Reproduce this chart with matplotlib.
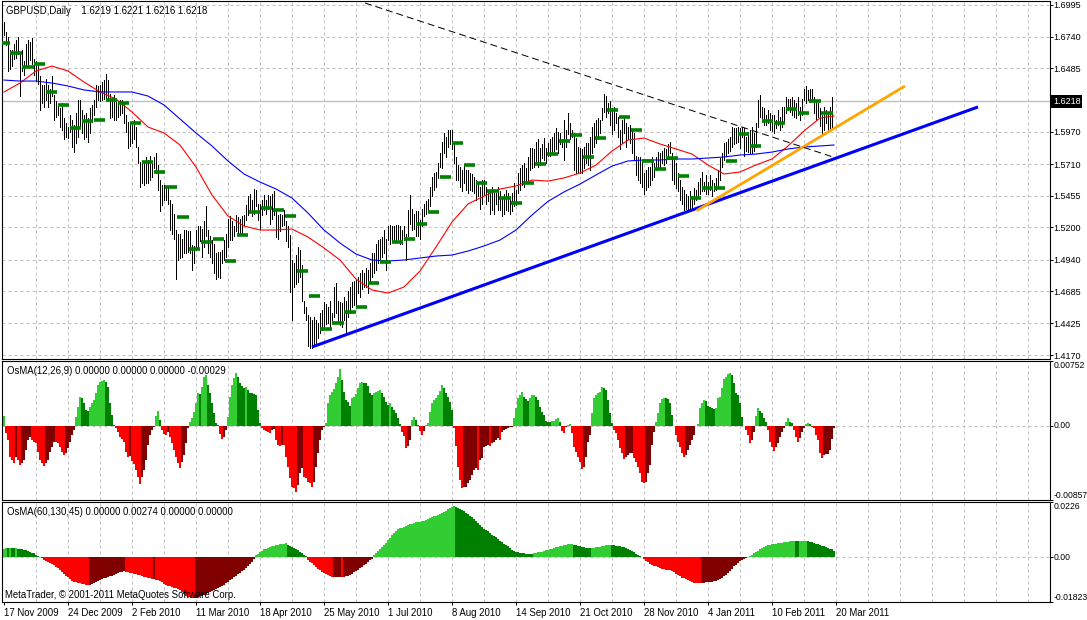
import numpy as np
import matplotlib
matplotlib.use('Agg')
import matplotlib.pyplot as plt

plt.rcParams['font.family'] = ['Liberation Sans', 'DejaVu Sans']

# GBPUSD daily bars in four chunks (left to right)
high_1 = [1.686, 1.678, 1.674, 1.663, 1.663, 1.668, 1.671, 1.674, 1.661, 1.663,
          1.654, 1.668, 1.671, 1.670, 1.673, 1.656, 1.654, 1.652, 1.642, 1.635,
          1.635, 1.640, 1.635, 1.632, 1.642, 1.627, 1.622, 1.619, 1.616, 1.620,
          1.608, 1.604, 1.601, 1.611, 1.607, 1.603, 1.612, 1.623, 1.623, 1.615,
          1.611, 1.612, 1.608, 1.616, 1.619, 1.623, 1.635, 1.634, 1.635, 1.637,
          1.639, 1.644, 1.639, 1.628, 1.625, 1.627, 1.621, 1.622, 1.623, 1.623,
          1.620, 1.611, 1.605, 1.604, 1.603, 1.607, 1.601, 1.585, 1.573, 1.572,
          1.573, 1.577, 1.574, 1.578, 1.573, 1.577, 1.580, 1.570, 1.558, 1.554,
          1.554, 1.553, 1.553, 1.542, 1.539, 1.531, 1.518, 1.515, 1.515, 1.511,
          1.518, 1.518, 1.517, 1.517, 1.506, 1.505, 1.518, 1.521, 1.521]
low_1 = [1.675, 1.667, 1.646, 1.648, 1.650, 1.656, 1.657, 1.660, 1.626, 1.646,
         1.643, 1.650, 1.650, 1.655, 1.652, 1.643, 1.638, 1.636, 1.615, 1.620,
         1.617, 1.623, 1.617, 1.620, 1.626, 1.607, 1.609, 1.611, 1.601, 1.599,
         1.591, 1.593, 1.592, 1.597, 1.585, 1.581, 1.588, 1.593, 1.601, 1.596,
         1.591, 1.593, 1.589, 1.596, 1.605, 1.611, 1.617, 1.623, 1.622, 1.623,
         1.624, 1.623, 1.622, 1.608, 1.609, 1.607, 1.607, 1.609, 1.611, 1.612,
         1.604, 1.597, 1.584, 1.586, 1.588, 1.591, 1.585, 1.572, 1.553, 1.556,
         1.554, 1.556, 1.556, 1.558, 1.561, 1.568, 1.564, 1.550, 1.533, 1.538,
         1.542, 1.542, 1.539, 1.518, 1.515, 1.511, 1.478, 1.494, 1.495, 1.496,
         1.499, 1.499, 1.500, 1.499, 1.486, 1.491, 1.502, 1.504, 1.509]

high_2 = [1.519, 1.525, 1.537, 1.518, 1.513, 1.510, 1.507, 1.499, 1.500, 1.500,
          1.502, 1.510, 1.515, 1.527, 1.529, 1.525, 1.521, 1.530, 1.528, 1.527,
          1.529, 1.530, 1.538, 1.545, 1.547, 1.542, 1.551, 1.550, 1.539, 1.539,
          1.542, 1.546, 1.542, 1.546, 1.545, 1.547, 1.549, 1.535, 1.530, 1.531,
          1.530, 1.534, 1.525, 1.521, 1.514, 1.494, 1.491, 1.498, 1.504, 1.502,
          1.490, 1.461, 1.456, 1.449, 1.448, 1.445, 1.448, 1.445, 1.443, 1.451,
          1.453, 1.460, 1.458, 1.456, 1.461, 1.451, 1.472, 1.475, 1.461, 1.460,
          1.459, 1.464, 1.461, 1.469, 1.472, 1.476, 1.477, 1.478, 1.480, 1.483,
          1.486, 1.483, 1.487, 1.486, 1.491, 1.499, 1.499, 1.507, 1.510, 1.511,
          1.512, 1.518, 1.511, 1.521, 1.522, 1.521, 1.521, 1.522, 1.522, 1.521,
          1.518, 1.521, 1.515, 1.534]
low_2 = [1.496, 1.504, 1.513, 1.499, 1.496, 1.491, 1.483, 1.478, 1.480, 1.479,
         1.491, 1.494, 1.496, 1.504, 1.510, 1.510, 1.513, 1.517, 1.515, 1.514,
         1.515, 1.522, 1.526, 1.530, 1.534, 1.529, 1.531, 1.537, 1.526, 1.519,
         1.530, 1.534, 1.531, 1.535, 1.523, 1.527, 1.530, 1.512, 1.511, 1.517,
         1.521, 1.522, 1.509, 1.504, 1.468, 1.445, 1.472, 1.474, 1.476, 1.480,
         1.461, 1.451, 1.445, 1.424, 1.423, 1.423, 1.425, 1.425, 1.431, 1.435,
         1.437, 1.440, 1.442, 1.443, 1.440, 1.443, 1.448, 1.451, 1.443, 1.441,
         1.440, 1.445, 1.435, 1.448, 1.451, 1.456, 1.457, 1.456, 1.467, 1.464,
         1.470, 1.472, 1.472, 1.467, 1.475, 1.480, 1.483, 1.486, 1.491, 1.493,
         1.496, 1.499, 1.486, 1.510, 1.507, 1.510, 1.508, 1.509, 1.511, 1.507,
         1.507, 1.510, 1.494, 1.513]

high_3 = [1.546, 1.535, 1.531, 1.533, 1.533, 1.526, 1.535, 1.539, 1.541, 1.543,
          1.553, 1.561, 1.564, 1.565, 1.572, 1.580, 1.589, 1.596, 1.593, 1.599,
          1.599, 1.599, 1.589, 1.577, 1.570, 1.569, 1.566, 1.570, 1.566, 1.566,
          1.564, 1.563, 1.561, 1.558, 1.556, 1.553, 1.558, 1.558, 1.553, 1.550,
          1.549, 1.553, 1.548, 1.548, 1.553, 1.549, 1.543, 1.547, 1.550, 1.548,
          1.545, 1.548, 1.556, 1.550, 1.564, 1.568, 1.570, 1.572, 1.568, 1.577,
          1.584, 1.584, 1.583, 1.589, 1.591, 1.584, 1.587, 1.592, 1.584, 1.588,
          1.591, 1.593, 1.596, 1.600, 1.597, 1.596, 1.591, 1.607, 1.599, 1.612,
          1.604, 1.599, 1.596, 1.592, 1.585, 1.584, 1.583, 1.585, 1.588, 1.588,
          1.593, 1.601, 1.604, 1.607, 1.608, 1.607, 1.616, 1.628, 1.626, 1.620,
          1.622, 1.616, 1.617, 1.612, 1.609, 1.599]
low_3 = [1.523, 1.518, 1.519, 1.513, 1.513, 1.511, 1.521, 1.529, 1.531, 1.534,
         1.537, 1.545, 1.550, 1.553, 1.560, 1.569, 1.568, 1.580, 1.577, 1.585,
         1.587, 1.583, 1.572, 1.558, 1.558, 1.553, 1.549, 1.556, 1.550, 1.548,
         1.550, 1.549, 1.548, 1.542, 1.545, 1.535, 1.539, 1.546, 1.539, 1.541,
         1.531, 1.534, 1.531, 1.539, 1.534, 1.534, 1.529, 1.531, 1.534, 1.533,
         1.531, 1.533, 1.537, 1.538, 1.548, 1.550, 1.554, 1.553, 1.556, 1.558,
         1.566, 1.568, 1.569, 1.572, 1.569, 1.570, 1.576, 1.574, 1.572, 1.578,
         1.578, 1.581, 1.582, 1.583, 1.580, 1.587, 1.585, 1.574, 1.585, 1.595,
         1.591, 1.593, 1.566, 1.564, 1.565, 1.564, 1.564, 1.568, 1.572, 1.570,
         1.566, 1.580, 1.585, 1.588, 1.591, 1.596, 1.607, 1.613, 1.609, 1.612,
         1.603, 1.595, 1.599, 1.604, 1.593, 1.583]

high_4 = [1.607, 1.609, 1.604, 1.601, 1.603, 1.598, 1.596, 1.578, 1.577, 1.577,
          1.574, 1.564, 1.566, 1.569, 1.569, 1.577, 1.572, 1.577, 1.581, 1.580,
          1.582, 1.584, 1.583, 1.587, 1.589, 1.580, 1.576, 1.572, 1.564, 1.558,
          1.553, 1.550, 1.547, 1.545, 1.549, 1.545, 1.552, 1.550, 1.557, 1.560,
          1.565, 1.557, 1.562, 1.557, 1.562, 1.558, 1.556, 1.560, 1.566, 1.576,
          1.580, 1.588, 1.589, 1.591, 1.593, 1.601, 1.600, 1.600, 1.601, 1.600,
          1.601, 1.600, 1.593, 1.597, 1.599, 1.601, 1.596, 1.604, 1.623, 1.627,
          1.617, 1.616, 1.611, 1.615, 1.612, 1.611, 1.611, 1.607, 1.615, 1.609,
          1.617, 1.617, 1.625, 1.624, 1.624, 1.625, 1.623, 1.620, 1.625, 1.617,
          1.624, 1.632, 1.634, 1.631, 1.632, 1.632, 1.625, 1.621, 1.620, 1.616,
          1.611, 1.617, 1.615, 1.613, 1.617, 1.625, 1.6221]
low_4 = [1.588, 1.596, 1.585, 1.591, 1.588, 1.580, 1.574, 1.562, 1.558, 1.556,
         1.553, 1.547, 1.550, 1.553, 1.554, 1.558, 1.561, 1.566, 1.569, 1.568,
         1.572, 1.570, 1.572, 1.577, 1.580, 1.558, 1.555, 1.552, 1.549, 1.542,
         1.539, 1.534, 1.535, 1.533, 1.535, 1.535, 1.539, 1.542, 1.545, 1.547,
         1.549, 1.549, 1.547, 1.547, 1.550, 1.545, 1.549, 1.550, 1.553, 1.558,
         1.569, 1.574, 1.578, 1.580, 1.582, 1.585, 1.587, 1.588, 1.589, 1.584,
         1.593, 1.578, 1.582, 1.581, 1.580, 1.580, 1.582, 1.585, 1.601, 1.609,
         1.608, 1.603, 1.603, 1.604, 1.599, 1.598, 1.596, 1.600, 1.603, 1.599,
         1.601, 1.604, 1.612, 1.615, 1.613, 1.611, 1.609, 1.608, 1.611, 1.607,
         1.611, 1.623, 1.620, 1.623, 1.621, 1.623, 1.612, 1.607, 1.609, 1.602,
         1.596, 1.599, 1.604, 1.597, 1.599, 1.600, 1.6216]

# weekly level markers (green dashes), one per week
weekly = [1.6685, 1.6605, 1.6497, 1.6519, 1.6290, 1.6185, 1.6005, 1.6059, 1.6067, 1.6228,
          1.6201, 1.6045, 1.5725, 1.5644, 1.5523, 1.5281, 1.5023, 1.5079, 1.5104, 1.4926,
          1.5136, 1.5322, 1.5354, 1.5340, 1.5289, 1.4845, 1.4644, 1.4377, 1.4428, 1.4514,
          1.4555, 1.4749, 1.4918, 1.5079, 1.5104, 1.5225, 1.5322, 1.5605, 1.5879, 1.5701,
          1.5556, 1.5492, 1.5435, 1.5395, 1.5556, 1.5709, 1.5790, 1.5895, 1.5943, 1.5766,
          1.5919, 1.6145, 1.6088, 1.5986, 1.5733, 1.5668, 1.5757, 1.5612, 1.5434, 1.5515,
          1.5515, 1.5733, 1.5951, 1.5857, 1.6056, 1.6040, 1.6153, 1.6120, 1.6220, 1.6120]

# moving averages, sampled every 8 bars
ma_red = [1.6293, 1.6365, 1.6462, 1.6502, 1.6462, 1.6373, 1.6293, 1.6236, 1.6131, 1.6010,
          1.5962, 1.5865, 1.5687, 1.5461, 1.5292, 1.5211, 1.5179, 1.5179, 1.5187, 1.5122,
          1.5034, 1.4937, 1.4783, 1.4695, 1.4670, 1.4719, 1.4848, 1.5042, 1.5243, 1.5389,
          1.5453, 1.5510, 1.5534, 1.5582, 1.5574, 1.5599, 1.5639, 1.5703, 1.5816, 1.5905,
          1.5921, 1.5873, 1.5833, 1.5792, 1.5704, 1.5631, 1.5647, 1.5704, 1.5752, 1.5857,
          1.5978, 1.6083, 1.6099]
ma_blue = [1.6389, 1.6381, 1.6381, 1.6365, 1.6341, 1.6309, 1.6293, 1.6293, 1.6293, 1.6260,
           1.6188, 1.6075, 1.5962, 1.5857, 1.5736, 1.5631, 1.5566, 1.5510, 1.5437, 1.5316,
           1.5179, 1.5074, 1.4985, 1.4937, 1.4929, 1.4937, 1.4953, 1.4969, 1.4977, 1.5009,
           1.5050, 1.5098, 1.5179, 1.5300, 1.5410, 1.5486, 1.5550, 1.5623, 1.5695, 1.5736,
           1.5744, 1.5744, 1.5752, 1.5752, 1.5760, 1.5768, 1.5784, 1.5792, 1.5808, 1.5833,
           1.5849, 1.5857, 1.5865]

# OsMA(12,26,9), in 0.00001
osma_fast = [116,
    -85, -162, -355, -394, -425, -355, -394, -452, -432, -394, -278, -162, -124, -162, -181,
    -201, -297, -394, -432, -463, -432, -394, -297, -239, -181, -185, -201, -239, -297, -336,
    -317, -259, -181, -104, -46,
    108, 224, 340, 320, 262, 185, 178, 224, 262, 301, 378, 475, 513, 520, 527, 513, 455, 262,
    127, 12,
    -27, -66, -124, -154, -181, -297, -365, -352, -400, -440, -510, -587, -672, -587, -510,
    -394, -220, -104, -46, -8,
    116, 178, 69,
    -46, -93, -104, -66, -124, -201, -278, -355, -432, -490, -413, -336, -201, -27,
    50, 89, 166, 262, 380, 370, 455, 571, 591, 475, 378, 262, 147, 31, 12,
    -93, -154, -124, -46,
    100, 340, 475, 552, 610, 571, 494, 463, 436, 448, 417, 386, 383, 371, 359, 185, 31,
    -27, -46, -54, -66, -77, -46, -39, -162, -220, -232, -220, -225, -355, -471, -606, -703,
    -722, -760, -683, -548, -490, -587, -606, -645, -664, -703, -645, -471, -317, -162, -46, -8,
    31, 262, 359, 398, 425, 494, 571, 656, 533, 398, 301, 282, 232, 320, 340, 371, 436, 494,
    505, 500, 494, 463, 378, 359, 378, 390, 405, 417, 378, 332, 282, 243, 262, 224, 185, 147,
    89, 19,
    -66, -116, -259, -232, -162,
    69, 100, 69, 12,
    -54, -104, -54,
    12,
    31, 166, 262, 301, 320, 359, 409, 475, 436, 378, 332, 282, 185,
    -27, -235, -471, -625, -714, -712, -703, -664, -625, -567, -510, -490, -510, -394, -374,
    -239, -232, -220, -232, -201, -181, -162, -143, -162, -66, -46, -39, -27, -15, -8,
    89, 205, 320, 359, 390, 340, 309, 293, 320, 359, 362, 340, 301, 224, 166, 127, 62, 50, 44,
    52, 62, 77, 89, 50,
    -54, -77, -12,
    15, 19,
    -85, -239, -297, -355, -413, -502, -471, -355, -181, -104,
    147, 320, 359, 378, 390, 448, 444, 417, 301, 147, 31,
    -46, -85, -162, -259, -317, -386, -355, -336, -317, -309, -374, -413, -471, -548, -645,
    -656, -645, -548, -452, -220, -66,
    50, 147, 262, 309, 322, 318, 315, 262, 127, 4,
    -104, -181, -239, -309, -355, -336, -278, -220, -162, -104,
    3, 23, 205, 262, 301, 293, 232, 216, 205, 200, 212, 320, 340, 436, 540, 571, 602, 618, 591,
    494, 378, 359, 262, 108, 4,
    -46, -104, -201, -162, -66,
    116, 205, 178, 147, 89, 50,
    -46, -181, -247, -286, -247, -201, -124, -66, -27,
    50, 89, 50, 31,
    -46, -124, -181, -143, -66, -27,
    27, 31, 23,
    -10, -27, -104, -162, -317, -374, -336, -330, -325, -278, -154, -29]

# OsMA(60,130,45), in 0.00001
osma_slow = [360, 367, 364, 368, 365, 362, 366,
    340, 330, 322, 305, 296, 272, 231, 190, 163, 95, 54, 14,
    -41, -109, -163, -204, -245, -286, -326, -381, -449, -517, -598, -680, -748, -816, -884,
    -952, -993, -1020, -1047, -1061, -1088, -1102, -1115, -1129, -1125, -1102, -1061, -1020,
    -966, -925, -898, -857, -830, -802, -775, -748, -707, -666, -626, -598, -585, -571, -585,
    -598, -626, -639, -666, -694, -707, -734, -762, -789, -802, -830, -857, -870, -866, -911,
    -938, -979, -1020, -1074, -1115, -1156, -1183, -1210, -1238, -1265, -1292, -1333, -1414,
    -1510, -1564, -1605, -1632, -1646, -1673, -1646, -1618, -1591, -1564, -1537, -1496, -1455,
    -1401, -1360, -1319, -1278, -1238, -1197, -1156, -1115, -1061, -1006, -938, -870, -816,
    -748, -694, -639, -571, -503, -435, -354, -272, -177, -82,
    95, 150, 218, 272, 326, 354, 394, 422, 449, 476, 503, 517, 530, 544, 558, 571, 517, 462,
    408, 367, 326, 286, 231, 177, 109, 41,
    -109, -177, -245, -326, -381, -462, -530, -598, -653, -694, -734, -775, -812, -805, -800,
    -795, -790, -815, -800, -775, -748, -707, -666, -612, -558, -503, -449, -394, -326, -258,
    -190, -122, -54,
    82, 163, 272, 354, 435, 503, 598, 707, 802, 911, 1006, 1088, 1142, 1183, 1210, 1238, 1265,
    1306, 1346, 1374, 1401, 1428, 1442, 1455, 1469, 1496, 1523, 1564, 1591, 1632, 1673, 1700,
    1741, 1782, 1822, 1863, 1904, 1958, 1999, 2040, 2081,
    2054, 2013, 1986, 1945, 1890, 1822, 1768, 1700, 1632, 1550, 1469, 1387, 1306, 1238, 1170,
    1115, 1061, 993, 925, 870, 816, 748, 680, 626, 558, 503, 449, 381, 313, 258, 231, 204, 190,
    177, 163, 150, 148, 136, 132,
    163, 177, 204, 218, 231, 258, 286, 313, 326, 354, 381, 408, 435, 449, 462, 490, 503, 530,
    544, 558, 517, 490, 476, 449, 435, 408, 381, 367, 365, 381, 394, 408, 422, 435, 449, 462,
    490, 503, 517, 503, 490, 476, 474, 462, 435, 408, 367, 326, 286, 245, 204, 150, 109, 68, 14,
    -68, -136, -204, -272, -313, -340, -367, -394, -435, -462, -490, -503, -517, -530, -571,
    -612, -666, -721, -775, -830, -857, -898, -938, -979, -1006, -1034, -1047, -1061, -1063,
    -1047, -1034, -1020, -1006, -1004, -993, -979, -966, -925, -870, -830, -775, -721, -653,
    -544, -462, -367, -299, -245, -163, -109, -54, -14,
    27, 68, 109, 163, 218, 272, 326, 381, 422, 462, 503, 517, 544, 558, 560, 571, 585, 598,
    612, 626, 639, 653, 666, 668, 653, 650, 660, 663, 668, 670, 655, 626, 612, 585, 558, 530,
    503, 476, 449, 408, 381, 354, 326, 274]

# drawn trend lines: (bar, price) anchors
trend_blue = [(154, 1.4235), (487, 1.6172)]
trend_orange = [(346.3, 1.5335), (450.5, 1.6341)]
trend_black = [(180.5, 1.7011), (414.5, 1.5768)]

last_bar = [1.6219, 1.6221, 1.6216, 1.6218]
price_ticks = [1.6995, 1.6740, 1.6485, 1.5970, 1.5710, 1.5455, 1.5200,
               1.4940, 1.4685, 1.4425, 1.4170]
date_labels = ['17 Nov 2009', '24 Dec 2009', '2 Feb 2010', '11 Mar 2010', '18 Apr 2010',
               '25 May 2010', '1 Jul 2010', '8 Aug 2010', '14 Sep 2010', '21 Oct 2010',
               '28 Nov 2010', '4 Jan 2011', '10 Feb 2011', '20 Mar 2011']

W, H = 1087, 620
GRID = '#c0c0c0'
LIME, DKGREEN, RED, MAROON = '#32cd32', '#008000', '#ff0000', '#800000'
DASH = (0, (3, 3))
TXT = 6.9      # header / date text size
AXT = 6.5      # right-hand scale labels


def addPanel(fig, top, bottom):
    """Adds an axes covering pixel rows top..bottom"""

    left, right = 1.5, 1050
    ax = fig.add_axes([left / W, 1 - bottom / H, (right - left) / W, (bottom - top) / H])
    ax.set_xlim(-1.25, 523)
    for spine in ax.spines.values():
        spine.set_linewidth(0.8)
        spine.set_color('black')
    ax.yaxis.tick_right()
    ax.tick_params(axis='y', direction='out', length=2.2, width=0.7, pad=0.5, labelsize=AXT)
    ax.tick_params(axis='x', bottom=False, labelbottom=False)
    for gx in range(16, 520, 16):
        ax.axvline(gx, color=GRID, linewidth=0.72, linestyle=DASH, zorder=0)
    return ax


def figText(fig, x, y, s, **kw):
    """Text placed by its top-left pixel"""

    fig.text(x / W, 1 - y / H, s, ha='left', va='top', fontsize=TXT, **kw)


def plotPrice(ax):
    """Daily bars, moving averages, weekly markers and trend lines"""

    highs = np.array(high_1 + high_2 + high_3 + high_4)
    lows = np.array(low_1 + low_2 + low_3 + low_4)
    n = len(highs)
    x = np.arange(n)

    ax.set_ylim(1.4138, 1.7027)
    ax.set_yticks(price_ticks)
    ax.set_yticklabels([f'{p:.4f}' for p in price_ticks])
    for p in price_ticks:
        ax.axhline(p, color=GRID, linewidth=0.72, linestyle=DASH, zorder=0)
    ax.axhline(last_bar[3], color=GRID, linewidth=1.0, zorder=1)

    ax.vlines(x, lows, highs, color='black', linewidth=0.5, antialiased=False, zorder=2)

    mx = np.minimum(np.arange(len(ma_red)) * 8, n - 1)
    ax.plot(mx, ma_red, color=RED, linewidth=0.8, zorder=3)
    ax.plot(mx, ma_blue, color='#0000ff', linewidth=0.8, zorder=3)

    starts = -2.16 + 5.963 * np.arange(len(weekly))
    ax.hlines(weekly, starts - 0.6, starts + 5.0, color=DKGREEN, linewidth=2.6,
              capstyle='butt', zorder=4)

    (bx0, by0), (bx1, by1) = trend_blue
    ax.plot([bx0, bx1], [by0, by1], color='#0000ff', linewidth=2.2, solid_capstyle='butt', zorder=5)
    (ox0, oy0), (ox1, oy1) = trend_orange
    ax.plot([ox0, ox1], [oy0, oy1], color='#ffa500', linewidth=2.0, solid_capstyle='butt', zorder=5)
    (kx0, ky0), (kx1, ky1) = trend_black
    ax.plot([kx0, kx1], [ky0, ky1], color='black', linewidth=0.72, dashes=(7, 4), zorder=5)

    ax.annotate(f'{last_bar[3]:.4f}', xy=(1, last_bar[3]), xycoords=ax.get_yaxis_transform(),
                xytext=(2.2, 0), textcoords='offset points', ha='left', va='center',
                color='white', fontsize=AXT, annotation_clip=False,
                bbox=dict(boxstyle='square,pad=0.2', fc='black', ec='none'))


def osmaColors(vals):
    """Bright when moving away from zero, dark when moving back"""

    cols = []
    prev = vals[0]
    for v in vals:
        if v >= 0:
            cols.append(LIME if v >= prev else DKGREEN)
        else:
            cols.append(RED if v <= prev else MAROON)
        prev = v
    return cols


def plotOsma(ax, vals, lo, hi, labels):
    """OsMA histogram with its three right-hand labels"""

    vals = np.array(vals) * 1e-5
    ax.set_ylim(lo, hi)
    ax.axhline(0, color=GRID, linewidth=0.72, linestyle=DASH, zorder=0)
    ax.bar(np.arange(len(vals)), vals, width=1.0, color=osmaColors(vals), linewidth=0,
           antialiased=False, zorder=2)
    ax.set_yticks([lo, 0, hi])
    ax.set_yticklabels(labels)
    for lab, va in zip(ax.get_yticklabels(), ['bottom', 'center', 'top']):
        lab.set_va(va)
        lab.set_fontsize(6.2)


fig = plt.figure(figsize=(W / 100, H / 100), dpi=100)

ax1 = addPanel(fig, 1, 359)
plotPrice(ax1)

ax2 = addPanel(fig, 361, 500)
plotOsma(ax2, osma_fast, -0.00857, 0.00752, ['-0.00857', '0.00', '0.00752'])

ax3 = addPanel(fig, 502, 602)
plotOsma(ax3, osma_slow, -0.01823, 0.0226, ['-0.01823', '0.00', '0.0226'])
ax3.set_xticks(np.arange(len(date_labels)) * 32)
ax3.set_xticklabels(date_labels, ha='left')
ax3.tick_params(axis='x', bottom=True, labelbottom=True, direction='out', length=2.5,
                width=0.7, pad=1.5, labelsize=TXT)

figText(fig, 6, 6, 'GBPUSD,Daily    ' + ' '.join(f'{v:.4f}' for v in last_bar))
figText(fig, 7, 366, 'OsMA(12,26,9) 0.00000 0.00000 0.00000 -0.00029')
figText(fig, 7, 507, 'OsMA(60,130,45) 0.00000 0.00274 0.00000 0.00000')
figText(fig, 5, 590, 'MetaTrader, \u00a9 2001-2011 MetaQuotes Software Corp.')

plt.savefig('out.png', dpi=100)
plt.close()
